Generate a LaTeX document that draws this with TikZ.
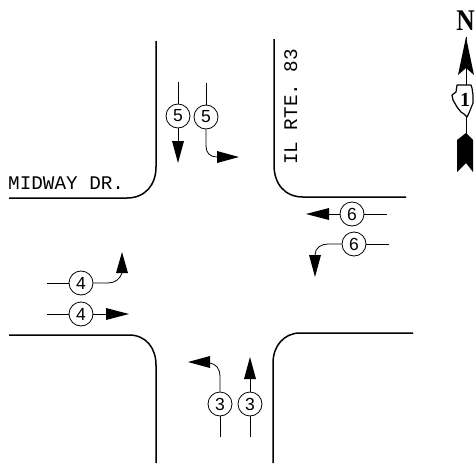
\documentclass[tikz,border=0pt]{standalone}
\usepackage{fontspec}
\setmainfont{Liberation Sans}
\newfontfamily\nfont{Liberation Serif}
\newfontfamily\rfont{Liberation Mono}
\tikzset{
  curb/.style={line width=1.5pt,black},
  lane/.style={line width=0.8pt,black},
  num/.style={circle,draw,line width=0.8pt,minimum size=24pt,inner sep=0pt,font=\fontsize{17.5}{17.5}\selectfont},
  road/.style={font=\fontsize{19.3}{20}\selectfont\rfont,inner sep=0pt,anchor=base west}
}
\begin{document}
\begin{tikzpicture}[x=1pt,y=-1pt]
\useasboundingbox (0,0) rectangle (475,466);
% curbs
\draw[curb] (156,41) -- (156,167) .. controls (156,185) and (145,198) .. (127,198) -- (9,198);
\draw[curb] (274,39) -- (274,165) .. controls (274,184) and (285,197) .. (303,197) -- (406,197);
\draw[curb] (9,335) -- (129,335) .. controls (146,335) and (156,348) .. (156,365) -- (156,463);
\draw[curb] (273,463) -- (273,363) .. controls (273,346) and (284,333) .. (300,333) -- (413,333);
% road names
\node[road] (midway) at (8,189) {MIDWAY DR.};
\node[road,rotate=90] (rte) at (297,165) {IL RTE. 83};
% 5
\node[num] (a5) at (178,116) {5};
\node[num] (b5) at (206,117) {5};
\coordinate (a5t) at (178,82); \coordinate (a5h) at (178,141); \coordinate (a5p) at (178,163);
\coordinate (b5t) at (206,83); \coordinate (b5h) at (217,157); \coordinate (b5p) at (239,157);
\draw[lane] (a5t) -- (a5) -- (a5h);
\draw[lane] (b5t) -- (b5);
\draw[lane] (b5.south) -- (206,146) .. controls (206,153) and (210,157) .. (b5h);
\fill (a5p) -- (172,141) -- (184,141) -- cycle;
\fill (b5p) -- (217,151) -- (217,163) -- cycle;
% 3
\node[num] (a3) at (220,404) {3};
\node[num] (b3) at (250,404) {3};
\coordinate (a3t) at (220,437); \coordinate (a3h) at (210,363); \coordinate (a3p) at (188,362);
\coordinate (b3t) at (250,437); \coordinate (b3h) at (250,379); \coordinate (b3p) at (250,357);
\draw[lane] (a3t) -- (a3);
\draw[lane] (a3.north) -- (220,376) .. controls (220,369) and (216,364) .. (a3h);
\draw[lane] (b3t) -- (b3) -- (b3h);
\fill (a3p) -- (210,356) -- (210,368) -- cycle;
\fill (b3p) -- (244,379) -- (256,379) -- cycle;
% 4
\node[num] (a4) at (81,283) {4};
\node[num] (b4) at (81,314) {4};
\coordinate (a4t) at (47,283); \coordinate (a4h) at (122,273); \coordinate (a4p) at (122,252);
\coordinate (b4t) at (47,314); \coordinate (b4h) at (106,314); \coordinate (b4p) at (129,314);
\draw[lane] (a4t) -- (a4);
\draw[lane] (a4.east) -- (108,283) .. controls (115,283) and (120,279) .. (a4h);
\draw[lane] (b4t) -- (b4) -- (b4h);
\fill (a4p) -- (116,273) -- (128,273) -- cycle;
\fill (b4p) -- (106,308) -- (106,320) -- cycle;
% 6
\node[num] (a6) at (352,214) {6};
\node[num] (b6) at (354,244) {6};
\coordinate (a6t) at (387,214); \coordinate (a6h) at (329,214); \coordinate (a6p) at (306,214);
\coordinate (b6t) at (389,244); \coordinate (b6h) at (315,255); \coordinate (b6p) at (315,277);
\draw[lane] (a6t) -- (a6) -- (a6h);
\draw[lane] (b6t) -- (b6);
\draw[lane] (b6.west) -- (328,244) .. controls (321,244) and (315,248) .. (b6h);
\fill (a6p) -- (329,208) -- (329,220) -- cycle;
\fill (b6p) -- (309,255) -- (321,255) -- cycle;
% north arrow
\node[font=\fontsize{30}{30}\selectfont\nfont\bfseries,inner sep=0pt,anchor=base] (north) at (465.5,30) {\scalebox{0.85}[1]{N}};
\coordinate (ntip) at (466,37);
\coordinate (ntail) at (466,140);
\draw[line width=1pt] (ntip) -- (ntail);
\fill (ntip) -- (458,75) -- (466,68) -- (474,75) -- cycle;
\draw[line width=1.2pt,fill=white,line join=round] (457,85) -- (471,85) -- (472,88) -- (473,95) -- (473,103) -- (471,108) -- (469,113) -- (467,117) -- (464,114) -- (461,112) -- (457,107) -- (453,100) -- (452,95) -- (456,92) -- cycle;
\node[font=\fontsize{20}{20}\selectfont\nfont\bfseries,inner sep=0pt] (shield) at (465,100) {1};
\fill (466,133) -- (473,140) -- (473,172) -- (466,163) -- (457,172) -- (457,140) -- cycle;
\end{tikzpicture}
\end{document}
